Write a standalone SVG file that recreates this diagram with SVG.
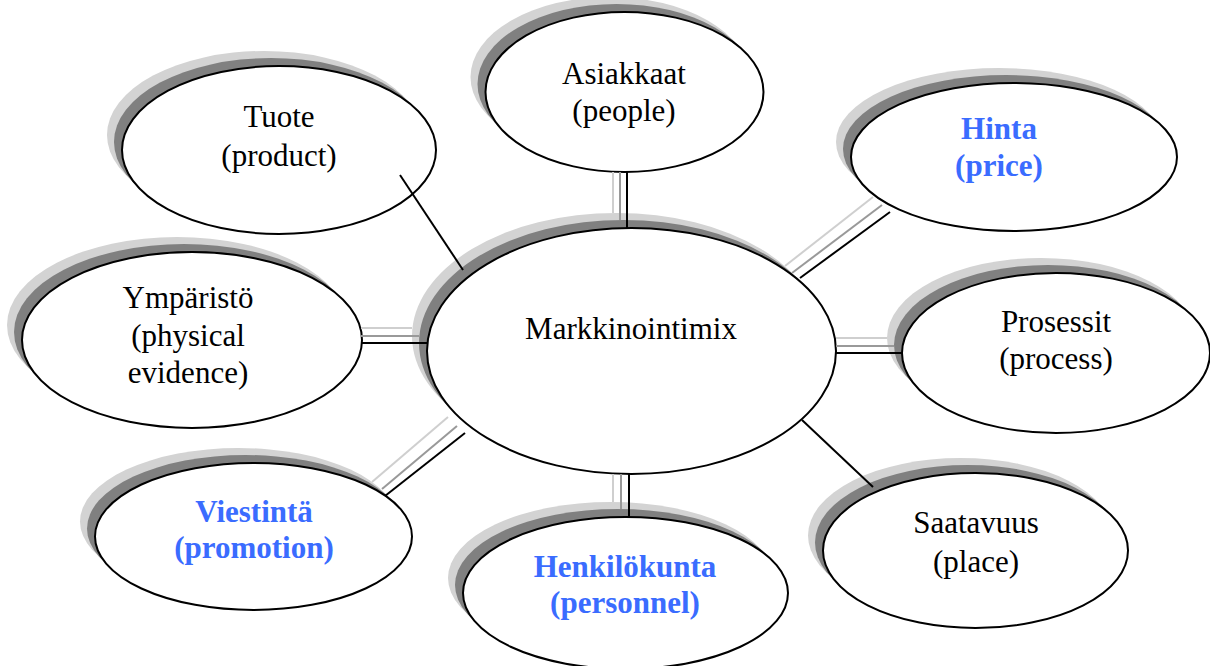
<svg xmlns="http://www.w3.org/2000/svg" width="1210" height="666" viewBox="0 0 1210 666">
<style>
.s1{fill:#d3d3d3}
.s2{fill:#808080}
.e{fill:#fff;stroke:#000;stroke-width:2}
text{font-family:"Liberation Serif","Times New Roman",serif;font-size:31px;fill:#000;text-anchor:middle}
.b{font-weight:bold;fill:#3a6cff}
.k{stroke:#000;stroke-width:2;fill:none}
.g{stroke:#999;stroke-width:2;fill:none}
.l{stroke:#cfcfcf;stroke-width:2;fill:none}
</style>
<rect width="1210" height="666" fill="#fff"/>
<g id="tuote">
<ellipse class="s1" cx="264" cy="135" rx="157" ry="84"/>
<ellipse class="s2" cx="271" cy="142" rx="157" ry="84"/>
<ellipse class="e" cx="279" cy="150" rx="157" ry="84"/>
<text x="279" y="127">Tuote</text>
<text x="279" y="166">(product)</text>
</g>
<g id="asiakkaat">
<ellipse class="s1" cx="609.5" cy="77" rx="139" ry="80"/>
<ellipse class="s2" cx="616.5" cy="84" rx="139" ry="80"/>
<ellipse class="e" cx="624.5" cy="92" rx="139" ry="80"/>
<text x="624" y="84">Asiakkaat</text>
<text x="624" y="121">(people)</text>
</g>
<g id="hinta">
<ellipse class="s1" cx="999" cy="142" rx="163" ry="74"/>
<ellipse class="s2" cx="1006" cy="149" rx="163" ry="74"/>
<ellipse class="e" cx="1014" cy="157" rx="163" ry="74"/>
<text class="b" x="999" y="139">Hinta</text>
<text class="b" x="999" y="176">(price)</text>
</g>
<g id="ymparisto">
<ellipse class="s1" cx="177" cy="325" rx="170" ry="88"/>
<ellipse class="s2" cx="184" cy="332" rx="170" ry="88"/>
<ellipse class="e" cx="192" cy="340" rx="170" ry="88"/>
<text x="188" y="308">Ympäristö</text>
<text x="188" y="346">(physical</text>
<text x="188" y="383">evidence)</text>
</g>
<g id="markkinointimix">
<ellipse class="s1" cx="616.5" cy="336" rx="204.5" ry="123"/>
<ellipse class="s2" cx="623.5" cy="343" rx="204.5" ry="123"/>
<ellipse class="e" cx="631.5" cy="351" rx="204.5" ry="123"/>
<text x="631" y="339">Markkinointimix</text>
</g>
<g id="prosessit">
<ellipse class="s1" cx="1041" cy="338" rx="154" ry="80"/>
<ellipse class="s2" cx="1048" cy="345" rx="154" ry="80"/>
<ellipse class="e" cx="1056" cy="353" rx="154" ry="80"/>
<text x="1056" y="332">Prosessit</text>
<text x="1056" y="369">(process)</text>
</g>
<g id="viestinta">
<ellipse class="s1" cx="238.5" cy="521.5" rx="158.5" ry="73.5"/>
<ellipse class="s2" cx="245.5" cy="528.5" rx="158.5" ry="73.5"/>
<ellipse class="e" cx="253.5" cy="536.5" rx="158.5" ry="73.5"/>
<text class="b" x="254" y="522">Viestintä</text>
<text class="b" x="254" y="558">(promotion)</text>
</g>
<g id="henkilokunta">
<ellipse class="s1" cx="610.5" cy="578" rx="162.5" ry="76"/>
<ellipse class="s2" cx="617.5" cy="585" rx="162.5" ry="76"/>
<ellipse class="e" cx="625.5" cy="593" rx="162.5" ry="76"/>
<text class="b" x="625" y="577">Henkilökunta</text>
<text class="b" x="625" y="613">(personnel)</text>
</g>
<g id="saatavuus">
<ellipse class="s1" cx="960.5" cy="535.5" rx="152.5" ry="77.5"/>
<ellipse class="s2" cx="967.5" cy="542.5" rx="152.5" ry="77.5"/>
<ellipse class="e" cx="975.5" cy="550.5" rx="152.5" ry="77.5"/>
<text x="976" y="533">Saatavuus</text>
<text x="976" y="572">(place)</text>
</g>
<g id="connectors">
<line class="k" x1="400" y1="175" x2="463" y2="270"/>
<line class="l" x1="613" y1="172" x2="613" y2="213"/>
<line class="g" x1="620" y1="172" x2="620" y2="220"/>
<line class="k" x1="627" y1="172" x2="627" y2="228"/>
<line class="l" x1="785" y1="266" x2="873" y2="197"/>
<line class="g" x1="792" y1="273" x2="882" y2="205"/>
<line class="k" x1="800" y1="278" x2="890" y2="212"/>
<line class="l" x1="361" y1="328" x2="412" y2="328"/>
<line class="g" x1="361" y1="336" x2="419" y2="336"/>
<line class="k" x1="361" y1="343" x2="427" y2="343"/>
<line class="l" x1="836" y1="338" x2="887" y2="338"/>
<line class="g" x1="836" y1="346" x2="894" y2="346"/>
<line class="k" x1="835" y1="353" x2="902" y2="353"/>
<line class="l" x1="372" y1="482" x2="448" y2="417"/>
<line class="g" x1="382" y1="489" x2="457" y2="426"/>
<line class="k" x1="385" y1="496" x2="465" y2="433"/>
<line class="l" x1="613" y1="474" x2="613" y2="502"/>
<line class="g" x1="621" y1="474" x2="621" y2="509"/>
<line class="k" x1="629" y1="474" x2="629" y2="517"/>
<line class="k" x1="802" y1="420" x2="873" y2="487"/>
</g>
</svg>
